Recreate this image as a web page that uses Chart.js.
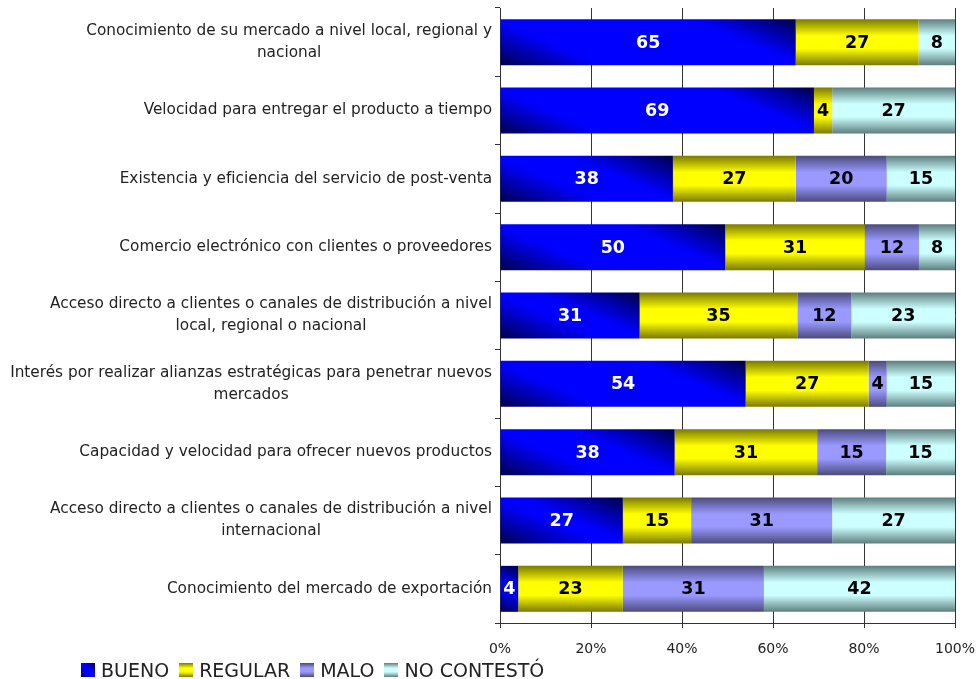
<!DOCTYPE html>
<html lang="es">
<head>
<meta charset="utf-8">
<script src="https://cdn.jsdelivr.net/npm/chart.js@4.4.1/dist/chart.umd.min.js"></script>
<style>
  html, body { margin: 0; padding: 0; background: #fff; }
  #wrap { position: relative; width: 977px; height: 679px; }
  #legend { position: absolute; left: 81px; top: 659px; display: flex; align-items: center;
            font: 19px "DejaVu Sans", sans-serif; color: #222; white-space: nowrap; }
  #legend .it { display: flex; align-items: center; margin-right: 10px; }
  #legend .bx { width: 14px; height: 14px; margin-right: 6px; }
</style>
</head>
<body>
<div id="wrap">
  <canvas id="c" width="977" height="679"></canvas>
  <div id="legend"></div>
</div>
<script>
/* Categories (wrapped as drawn) and the four answer series, in percent */
const categories = [
  ["Conocimiento de su mercado a nivel local, regional y", "nacional"],
  ["Velocidad para entregar el producto a tiempo"],
  ["Existencia y eficiencia del servicio de post-venta"],
  ["Comercio electrónico con clientes o proveedores"],
  ["Acceso directo a clientes o canales de distribución a nivel", "local, regional o nacional"],
  ["Interés por realizar alianzas estratégicas para penetrar nuevos", "mercados"],
  ["Capacidad y velocidad para ofrecer nuevos productos"],
  ["Acceso directo a clientes o canales de distribución a nivel", "internacional"],
  ["Conocimiento del mercado de exportación"],
];
const bueno      = [65, 69, 38, 50, 31, 54, 38, 27, 4];
const regular    = [27, 4, 27, 31, 35, 27, 31, 15, 23];
const malo       = [0, 0, 20, 12, 12, 4, 15, 31, 31];
const noContesto = [8, 27, 15, 8, 23, 15, 15, 27, 42];
const seriesNames = ["BUENO", "REGULAR", "MALO", "NO CONTESTÓ"];
const xTicks = [0, 20, 40, 60, 80, 100];

const series = [bueno, regular, malo, noContesto];
// 100% stacked: each row is scaled to its own total
const rowTotal = categories.map((_, i) => series.reduce((a, s) => a + s[i], 0));
const share = s => s.map((v, i) => v / rowTotal[i] * 100);

const BAR_PCT = 0.673;
const FONT = '"DejaVu Sans", sans-serif';
const PAL = [
  { dark: "#00004a", bright: "#0000ff", diag: true, text: "#fff" },
  { dark: "#7a7a00", bright: "#ffff00", text: "#000" },
  { dark: "#4b4b7c", bright: "#9999ff", text: "#000" },
  { dark: "#5e7e7e", bright: "#ccffff", text: "#000" },
];

// per-bar gradient: vertical light band; blue one darkens toward the
// bottom-left and top-right corners
function barFill(ctx) {
  const chart = ctx.chart, ds = ctx.datasetIndex, i = ctx.dataIndex, p = PAL[ds];
  const xs = chart.scales.x, ys = chart.scales.y;
  if (!chart.chartArea || !xs || !ys) return p.bright;
  let start = 0;
  for (let k = 0; k < ds; k++) start += chart.data.datasets[k].data[i];
  const end = start + chart.data.datasets[ds].data[i];
  const l = xs.getPixelForValue(start), r = xs.getPixelForValue(end);
  const cy = ys.getPixelForValue(i);
  const h = (chart.chartArea.height / categories.length) * BAR_PCT;
  const t = cy - h / 2, b = cy + h / 2;
  const g2d = chart.ctx;
  let g;
  if (p.diag) {
    const w = Math.max(r - l, 1), m = 2.4;
    const span = w + m * h;                 // projection of the bar's diagonal on (1, -m)
    const k = span / (1 + m * m);
    g = g2d.createLinearGradient(l, b, l + k, b - k * m);
    const st = Math.min(0.45, 105 / span);
    g.addColorStop(0, p.dark); g.addColorStop(st * 0.45, "#0000a0");
    g.addColorStop(st, p.bright); g.addColorStop(1 - st, p.bright);
    g.addColorStop(1 - st * 0.45, "#0000a0"); g.addColorStop(1, p.dark);
  } else {
    g = g2d.createLinearGradient(0, t, 0, b);
    g.addColorStop(0, p.dark); g.addColorStop(0.36, p.bright);
    g.addColorStop(0.64, p.bright); g.addColorStop(1, p.dark);
  }
  return g;
}

// wrapped category labels: block right-aligned to the axis, lines centred in it
const catLabels = {
  id: "catLabels",
  afterDraw(chart) {
    const { ctx, chartArea } = chart, ys = chart.scales.y;
    ctx.save();
    ctx.font = "15.3px " + FONT;
    ctx.fillStyle = "#222";
    ctx.textAlign = "center";
    ctx.textBaseline = "middle";
    const lh = 22;
    categories.forEach((lines, i) => {
      const w = Math.max(...lines.map(s => ctx.measureText(s).width));
      const cx = chartArea.left - 8 - w / 2;
      const y0 = ys.getPixelForValue(i) - (lines.length - 1) * lh / 2;
      lines.forEach((s, k) => ctx.fillText(s, cx, y0 + k * lh));
    });
    ctx.restore();
  },
};

// value labels in the middle of each segment (raw counts, not the scaled share)
const valueLabels = {
  id: "valueLabels",
  afterDatasetsDraw(chart) {
    const ctx = chart.ctx;
    ctx.save();
    ctx.font = "bold 17.5px " + FONT;
    ctx.textAlign = "center";
    ctx.textBaseline = "middle";
    chart.data.datasets.forEach((ds, d) => {
      chart.getDatasetMeta(d).data.forEach((bar, i) => {
        const v = series[d][i];
        if (!v) return;
        ctx.fillStyle = PAL[d].text;
        ctx.fillText(String(v), (bar.x + bar.base) / 2, bar.y + 1);
      });
    });
    ctx.restore();
  },
};

new Chart(document.getElementById("c"), {
  type: "bar",
  data: {
    labels: categories.map(l => l.join(" ")),
    datasets: series.map((s, d) => ({
      label: seriesNames[d],
      data: share(s),
      backgroundColor: barFill,
      borderWidth: 0,
      barPercentage: BAR_PCT,
      categoryPercentage: 1,
    })),
  },
  options: {
    indexAxis: "y",
    responsive: false,
    animation: false,
    layout: { padding: { top: 8, right: 22, left: 0, bottom: 0 } },
    plugins: { legend: { display: false }, tooltip: { enabled: false } },
    scales: {
      x: {
        stacked: true, min: 0, max: 100,
        afterBuildTicks: sc => { sc.ticks = xTicks.map(v => ({ value: v })); },
        ticks: { callback: v => v + "%", color: "#222", padding: 13, maxRotation: 0,
                 font: { family: FONT, size: 14 } },
        grid: { color: "#333", lineWidth: 1, tickLength: 5 },
        border: { color: "#333" },
        afterFit: sc => { sc.height = 56; sc.paddingLeft = 0; sc.paddingRight = 0; },
      },
      y: {
        stacked: true,
        ticks: { display: false },
        grid: { drawOnChartArea: false, color: "#333", tickLength: 5, offset: true },
        border: { color: "#333" },
        afterFit: sc => { sc.width = 500; },
      },
    },
  },
  plugins: [catLabels, valueLabels],
});

// legend with the same shading as the bars
const legend = document.getElementById("legend");
seriesNames.forEach((name, d) => {
  const p = PAL[d];
  const bg = p.diag
    ? `linear-gradient(45deg, ${p.dark}, ${p.bright} 38%, ${p.bright} 62%, ${p.dark})`
    : `linear-gradient(to bottom, ${p.dark}, ${p.bright} 36%, ${p.bright} 64%, ${p.dark})`;
  const it = document.createElement("div");
  it.className = "it";
  it.innerHTML = `<span class="bx" style="background:${bg}"></span><span>${name}</span>`;
  legend.appendChild(it);
});
</script>
</body>
</html>
